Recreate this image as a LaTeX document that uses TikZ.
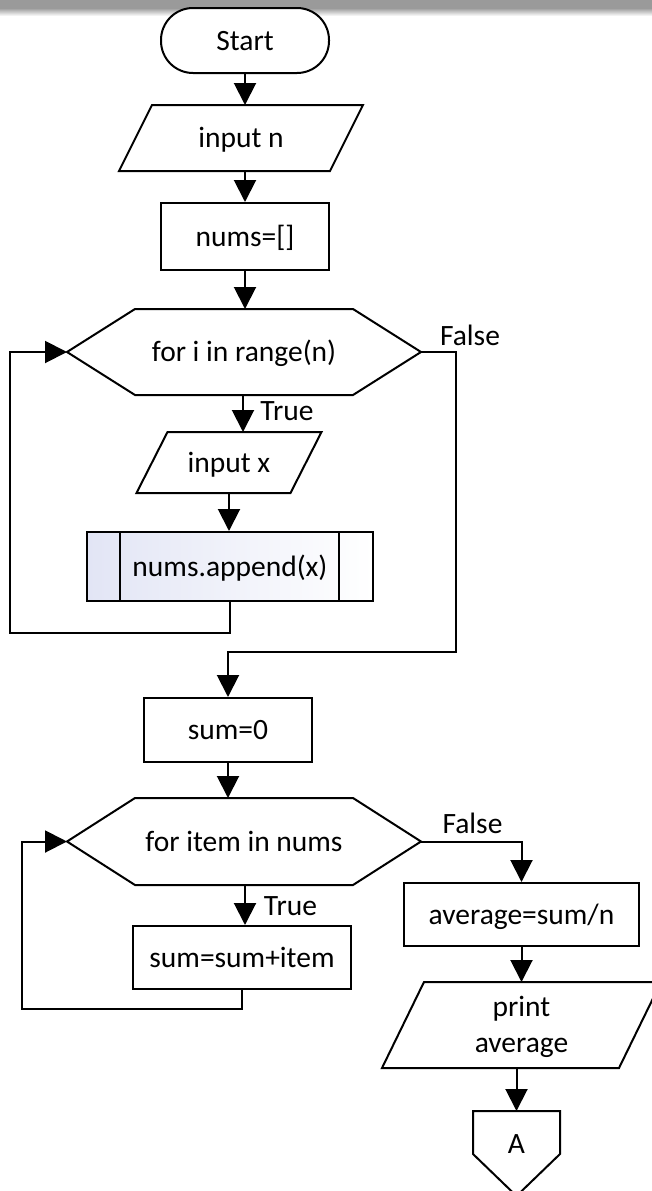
\documentclass[tikz,border=0pt]{standalone}
\usepackage{fontspec}
\setmainfont{Carlito}
\usetikzlibrary{arrows.meta}
\definecolor{lav}{RGB}{226,229,245}
\definecolor{topgray}{RGB}{154,154,154}
\begin{document}
\begin{tikzpicture}[x=1pt,y=-1pt,line width=2pt,
  every node/.style={font=\fontsize{29.5}{35.4}\selectfont, inner sep=0pt, text height=19pt, text depth=0pt},
  arr/.style={-{Triangle[width=22pt,length=22pt]}}]
\useasboundingbox (0,0) rectangle (652,1191);
% top shadow bar
\fill[topgray] (0,0) rectangle (652,8);
\shade[top color=topgray, bottom color=white] (0,8) rectangle (652,16);

% Start
\node[draw, fill=white, rounded corners=32pt, minimum width=168pt, minimum height=65pt] (start) at (245,40.5) {Start};

% input n
\node[minimum width=209pt, minimum height=64pt] (inn) at (241,138) {input n};
\draw ([xshift=16.5pt]inn.north west) -- ([xshift=16.5pt]inn.north east) -- ([xshift=-16.5pt]inn.south east) -- ([xshift=-16.5pt]inn.south west) -- cycle;

% nums=[]
\node[draw, minimum width=168pt, minimum height=67pt] (n0) at (245,236.5) {nums=[]};

% hexagon 1
\node[minimum width=352pt, minimum height=84pt] (h1) at (244,352) {for i in range(n)};
\draw (h1.west) -- ([xshift=68pt]h1.north west) -- ([xshift=-68pt]h1.north east) -- (h1.east) -- ([xshift=-68pt]h1.south east) -- ([xshift=68pt]h1.south west) -- cycle;

% input x
\node[minimum width=152pt, minimum height=59pt] (inx) at (229,462.5) {input x};
\draw ([xshift=15.5pt]inx.north west) -- ([xshift=15.5pt]inx.north east) -- ([xshift=-15.5pt]inx.south east) -- ([xshift=-15.5pt]inx.south west) -- cycle;

% nums.append(x)
\node[draw, minimum width=286pt, minimum height=69pt, left color=lav, right color=white] (app) at (230,566.5) {nums.append(x)};
\draw ([xshift=34pt]app.north west) -- ([xshift=34pt]app.south west);
\draw ([xshift=-35pt]app.north east) -- ([xshift=-35pt]app.south east);

% sum=0
\node[draw, minimum width=168pt, minimum height=64pt] (s0) at (228,730) {sum=0};

% hexagon 2
\node[minimum width=352pt, minimum height=85pt] (h2) at (244,841.5) {for item in nums};
\draw (h2.west) -- ([xshift=68pt]h2.north west) -- ([xshift=-68pt]h2.north east) -- (h2.east) -- ([xshift=-68pt]h2.south east) -- ([xshift=68pt]h2.south west) -- cycle;

% sum=sum+item
\node[draw, minimum width=218pt, minimum height=63pt] (ssi) at (242,957.5) {sum=sum+item};

% average=sum/n
\node[draw, minimum width=235pt, minimum height=63pt] (avg) at (521.5,914.5) {average=sum/n};

% print average
\node[minimum width=235pt, minimum height=84pt, align=center, text height=54.4pt] (pa) at (521.5,1025) {print\\average};
\draw ([xshift=21pt]pa.north west) -- ([xshift=21pt]pa.north east) -- ([xshift=-21pt]pa.south east) -- ([xshift=-21pt]pa.south west) -- cycle;

% off-page connector A
\node[minimum width=85pt, minimum height=64pt] (A) at (516.5,1144) {A};
\draw (A.north west) -- ++(0,43) -- ([yshift=-85pt]A.north) -- ([yshift=-43pt]A.north east) -- (A.north east) -- cycle;

% labels
\node (t1) at (287,410.5) {True};
\node (f1) at (470,335.5) {False};
\node (t2) at (290.5,905.5) {True};
\node (f2) at (472.5,823.5) {False};

% connectors
\coordinate (j1) at (456,652);
\draw[arr] (start.south) -- (start.south |- inn.north);
\draw[arr] (inn.south -| n0.north) -- (n0.north);
\draw[arr] (n0.south) -- (n0.south |- h1.north);
\draw[arr] ([xshift=-1pt]h1.south) -- ([xshift=-1pt]h1.south |- inx.north);
\draw[arr] (inx.south) -- (inx.south |- app.north);
\draw[arr] (app.south) -- ++(0,31) -| ([xshift=-57pt]h1.west) -- (h1.west);
\draw[arr] (h1.east) -| (j1) -| (s0.north);
\draw[arr] (s0.south) -- (s0.south |- h2.north);
\draw[arr] ([xshift=1pt]h2.south) -- ([xshift=1pt]h2.south |- ssi.north);
\draw[arr] (ssi.south) -- ++(0,19) -| ([xshift=-45pt]h2.west) -- (h2.west);
\draw[arr] (h2.east) -| (avg.north);
\draw[arr] (avg.south) -- (avg.south |- pa.north);
\draw[arr] (pa.south -| A.north) -- (A.north);
\end{tikzpicture}
\end{document}
